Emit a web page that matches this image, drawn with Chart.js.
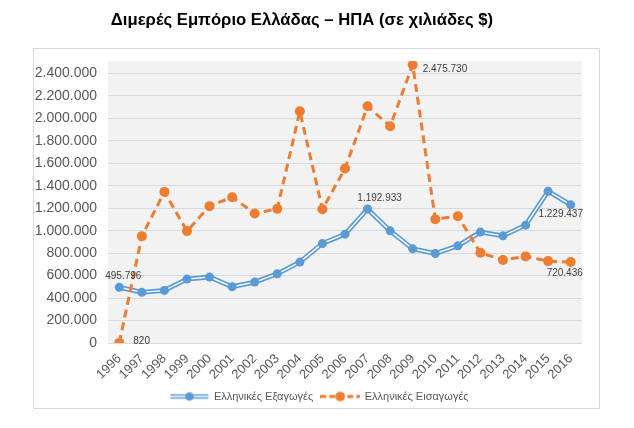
<!DOCTYPE html>
<html>
<head>
<meta charset="utf-8">
<script src="https://cdn.jsdelivr.net/npm/chart.js@4/dist/chart.umd.min.js"></script>
<style>
    html, body { margin: 0; padding: 0; background: #ffffff; }
    canvas { display: block; }
</style>
</head>
<body>
<canvas id="trade" width="634" height="428"></canvas>
<script>
var years = ['1996', '1997', '1998', '1999', '2000', '2001', '2002', '2003', '2004', '2005', '2006',
    '2007', '2008', '2009', '2010', '2011', '2012', '2013', '2014', '2015', '2016'];
var exportsGr = [495796, 451000, 468000, 569000, 587000, 501000, 542000, 616000, 720000, 886000, 969000,
    1192933, 998000, 838000, 797000, 865000, 987000, 954000, 1049000, 1351000, 1229437];
var importsGr = [820, 951000, 1345000, 996000, 1218000, 1298000, 1153000, 1194000, 2062000, 1191000, 1553000,
    2107000, 1929000, 2475730, 1102000, 1129000, 803000, 738000, 771000, 729000, 720436];
var yTicks = [0, 200000, 400000, 600000, 800000, 1000000, 1200000, 1400000, 1600000, 1800000, 2000000, 2200000, 2400000];
var exportsName = 'Ελληνικές Εξαγωγές';
var importsName = 'Ελληνικές Εισαγωγές';
var titleText = 'Διμερές Εμπόριο Ελλάδας – ΗΠΑ (σε χιλιάδες $)';
// points with a value label
var exportsLabelIdx = [0, 11, 20];
var importsLabelIdx = [0, 13, 20];

const BLUE = '#5b9bd5';
const ORANGE = '#ed7d31';
const FONT = '"Liberation Sans", Arial, sans-serif';

function fmt(v) {
    return String(v).replace(/\B(?=(\d{3})+(?!\d))/g, '.');
}

function legendSymbol(kind) {
    let c = document.createElement('canvas');
    c.width = 40;
    c.height = 12;
    let ctx = c.getContext('2d');
    if (kind === 'exp') {
        ctx.strokeStyle = BLUE;
        ctx.lineWidth = 4.5;
        ctx.beginPath(); ctx.moveTo(1, 6); ctx.lineTo(39, 6); ctx.stroke();
        ctx.strokeStyle = '#ffffff';
        ctx.lineWidth = 1.4;
        ctx.beginPath(); ctx.moveTo(1, 6); ctx.lineTo(39, 6); ctx.stroke();
        ctx.fillStyle = BLUE;
        ctx.beginPath(); ctx.arc(20, 6, 4.3, 0, Math.PI * 2); ctx.fill();
    } else {
        ctx.strokeStyle = ORANGE;
        ctx.lineWidth = 3;
        ctx.setLineDash([6, 3]);
        ctx.beginPath(); ctx.moveTo(0, 6); ctx.lineTo(40, 6); ctx.stroke();
        ctx.fillStyle = ORANGE;
        ctx.beginPath(); ctx.arc(20, 6, 4.8, 0, Math.PI * 2); ctx.fill();
    }
    return c;
}

const frameAndTitle = {
    id: 'frameAndTitle',
    beforeDraw(chart) {
        const ctx = chart.ctx;
        const a = chart.chartArea;
        ctx.save();
        ctx.fillStyle = '#f2f2f2';
        ctx.fillRect(a.left, a.top, a.right - a.left, a.bottom - a.top);
        ctx.strokeStyle = '#d9d9d9';
        ctx.lineWidth = 1;
        ctx.strokeRect(33.5, 48.5, 566, 360);
        ctx.fillStyle = '#000000';
        ctx.font = 'bold 16.7px ' + FONT;
        ctx.textAlign = 'center';
        ctx.textBaseline = 'middle';
        ctx.fillText(titleText, 302, 20);
        ctx.restore();
    }
};

const valueLabels = {
    id: 'valueLabels',
    afterDatasetsDraw(chart) {
        const ctx = chart.ctx;
        const specs = [
            {ds: 2, idx: exportsLabelIdx, data: exportsGr, off: [[4, -11, 'center'], [12, -11, 'center'], [-10, 9, 'center']]},
            {ds: 3, idx: importsLabelIdx, data: importsGr, off: [[14, -2, 'left'], [10, 4, 'left'], [-6, 11, 'center']]}
        ];
        ctx.save();
        ctx.font = '10px ' + FONT;
        ctx.fillStyle = '#404040';
        ctx.textBaseline = 'middle';
        specs.forEach(s => {
            const meta = chart.getDatasetMeta(s.ds);
            s.idx.forEach((i, k) => {
                const p = meta.data[i];
                ctx.textAlign = s.off[k][2];
                ctx.fillText(fmt(s.data[i]), p.x + s.off[k][0], p.y + s.off[k][1]);
            });
        });
        ctx.restore();
    }
};

const config = {
    type: 'line',
    data: {
        labels: years,
        datasets: [
            {
                label: exportsName,
                data: exportsGr,
                borderColor: BLUE,
                borderWidth: 4.8,
                pointRadius: 0,
                tension: 0,
                order: 4
            },
            {
                label: exportsName + ' inner',
                data: exportsGr,
                borderColor: '#ffffff',
                borderWidth: 1.4,
                pointRadius: 0,
                tension: 0,
                order: 3
            },
            {
                label: exportsName + ' points',
                data: exportsGr,
                showLine: false,
                pointRadius: 4.5,
                pointBackgroundColor: BLUE,
                pointBorderWidth: 0,
                order: 2
            },
            {
                label: importsName,
                data: importsGr,
                borderColor: ORANGE,
                borderWidth: 3,
                borderDash: [8, 5],
                pointRadius: 5,
                pointBackgroundColor: ORANGE,
                pointBorderWidth: 0,
                tension: 0,
                order: 1
            }
        ]
    },
    options: {
        responsive: false,
        animation: false,
        devicePixelRatio: 1,
        layout: {
            padding: {left: 35, right: 30, top: 61, bottom: 16}
        },
        scales: {
            x: {
                offset: true,
                grid: {display: false, drawTicks: false},
                border: {display: false},
                ticks: {
                    color: '#595959',
                    font: {family: FONT, size: 13},
                    maxRotation: 45,
                    minRotation: 45,
                    padding: 8,
                    autoSkip: false
                },
                afterFit: function (scale) {
                    scale.height = 40;
                }
            },
            y: {
                min: 0,
                max: 2510000,
                grid: {color: '#d9d9d9', drawTicks: false},
                border: {display: false},
                ticks: {
                    color: '#595959',
                    font: {family: FONT, size: 14},
                    padding: 11,
                    callback: function (value) {
                        return fmt(value);
                    }
                },
                afterBuildTicks: function (scale) {
                    scale.ticks = yTicks.map(v => ({value: v}));
                },
                afterFit: function (scale) {
                    scale.width = 73;
                }
            },
            yRight: {
                position: 'right',
                grid: {display: false, drawTicks: false},
                border: {display: false},
                ticks: {display: false},
                afterFit: function (scale) {
                    scale.width = 22;
                }
            }
        },
        plugins: {
            title: {display: false},
            tooltip: {enabled: false},
            legend: {
                position: 'bottom',
                labels: {
                    usePointStyle: true,
                    pointStyleWidth: 38,
                    padding: 8,
                    color: '#595959',
                    font: {family: FONT, size: 11},
                    generateLabels: function () {
                        return [
                            {text: exportsName, pointStyle: legendSymbol('exp'), fontColor: '#595959', lineWidth: 0, strokeStyle: 'transparent', fillStyle: 'transparent'},
                            {text: importsName, pointStyle: legendSymbol('imp'), fontColor: '#595959', lineWidth: 0, strokeStyle: 'transparent', fillStyle: 'transparent'}
                        ];
                    }
                }
            }
        }
    },
    plugins: [frameAndTitle, valueLabels]
};

const graphic = new Chart(document.getElementById('trade'), config);
</script>
</body>
</html>
